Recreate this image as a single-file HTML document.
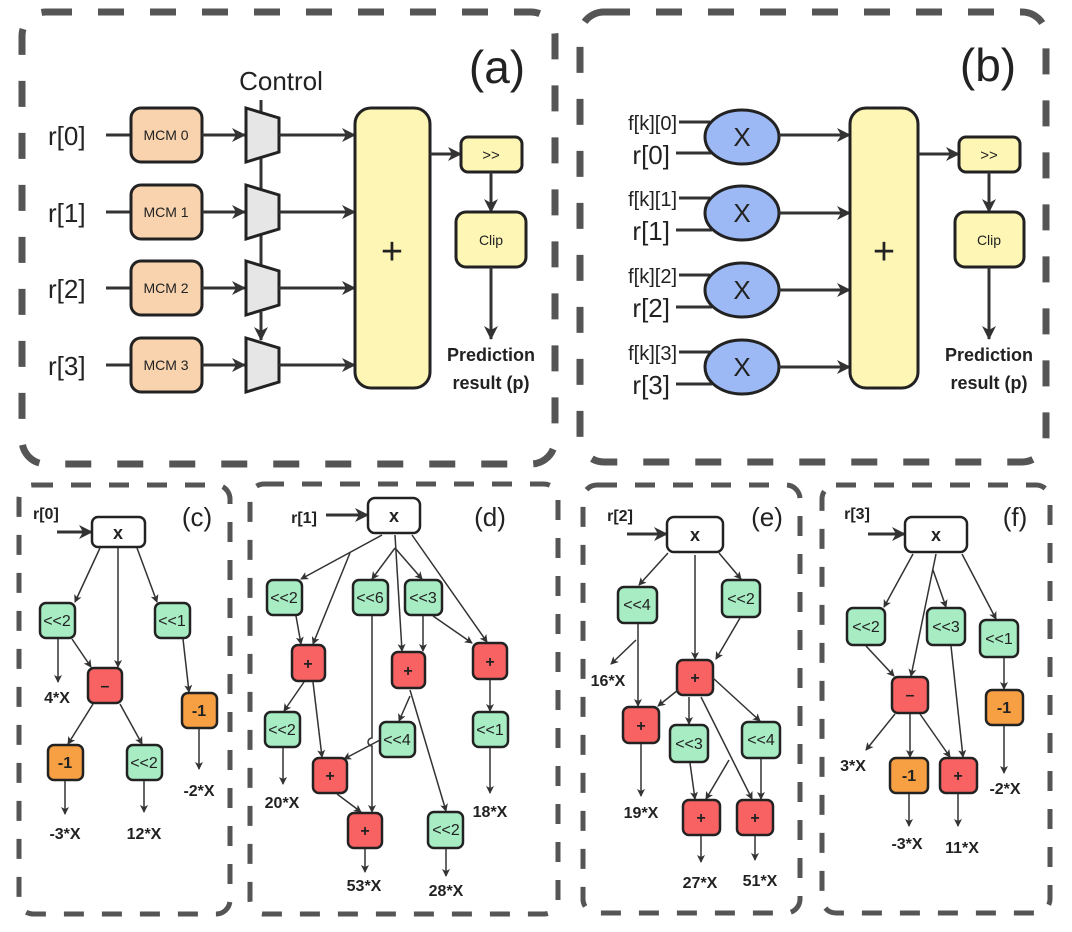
<!DOCTYPE html>
<html><head><meta charset="utf-8"><style>
html,body{margin:0;padding:0;background:#fff}
svg{display:block}
text{font-family:"Liberation Sans","DejaVu Sans",sans-serif;fill:#222}
.pn{fill:none;stroke:#555;stroke-width:7;stroke-dasharray:26 26}
.pn2{fill:none;stroke:#555;stroke-width:5;stroke-dasharray:20 18}
.e{stroke:#333;stroke-width:1.5;fill:none;marker-end:url(#s)}
.E{stroke:#333;stroke-width:3;fill:none;marker-end:url(#b)}
.L{stroke:#333;stroke-width:3;fill:none}
.g{fill:#a8ecc4;stroke:#222;stroke-width:2.5}
.r{fill:#f96262;stroke:#222;stroke-width:2.5}
.o{fill:#f7a043;stroke:#222;stroke-width:2.5}
.w{fill:#fff;stroke:#222;stroke-width:2.5}
.nt{font-size:16px;text-anchor:middle}
.xt{font-size:18px;font-weight:bold;text-anchor:middle}
.bt{font-size:18px;font-weight:bold;text-anchor:middle}
.lb{font-size:16px;font-weight:bold;text-anchor:middle}
.ls{font-size:16px;font-weight:bold;text-anchor:start}
</style></head><body>
<svg width="1072" height="932" viewBox="0 0 1072 932" xmlns="http://www.w3.org/2000/svg">
<defs>
<marker id="s" markerWidth="8" markerHeight="8" refX="7" refY="4" orient="auto" markerUnits="userSpaceOnUse"><path d="M0,0 L8,4 L0,8 L2,4z" fill="#333"/></marker>
<marker id="b" markerWidth="14" markerHeight="14" refX="13" refY="7" orient="auto" markerUnits="userSpaceOnUse"><path d="M0,0 L14,7 L0,14 L4,7z" fill="#333"/></marker>
</defs>
<rect class="pn" x="22" y="12" width="533" height="452" rx="24"/>
<rect class="pn" x="580" y="12" width="466" height="450" rx="24"/>
<rect class="pn2" x="19" y="485" width="211" height="429" rx="14"/>
<rect class="pn2" x="250" y="484" width="308" height="430" rx="14"/>
<rect class="pn2" x="583" y="485" width="217" height="428" rx="14"/>
<rect class="pn2" x="822" y="485" width="228" height="428" rx="14"/>

<!-- (a) -->
<text x="497" y="83" font-size="46" text-anchor="middle">(a)</text>
<text x="281" y="90" font-size="26" text-anchor="middle">Control</text>
<g font-size="26">
<text x="48" y="145">r[0]</text><text x="48" y="222">r[1]</text><text x="48" y="298">r[2]</text><text x="48" y="375">r[3]</text>
</g>
<g>
<line class="L" x1="106" y1="135" x2="131" y2="135"/><line class="L" x1="106" y1="212" x2="131" y2="212"/>
<line class="L" x1="106" y1="288" x2="131" y2="288"/><line class="L" x1="106" y1="365" x2="131" y2="365"/>
<rect x="131" y="108" width="71" height="54" rx="10" fill="#f8d3ae" stroke="#222" stroke-width="3"/>
<rect x="131" y="185" width="71" height="54" rx="10" fill="#f8d3ae" stroke="#222" stroke-width="3"/>
<rect x="131" y="261" width="71" height="54" rx="10" fill="#f8d3ae" stroke="#222" stroke-width="3"/>
<rect x="131" y="338" width="71" height="54" rx="10" fill="#f8d3ae" stroke="#222" stroke-width="3"/>
<g font-size="14" text-anchor="middle"><text x="166" y="140">MCM 0</text><text x="166" y="217">MCM 1</text><text x="166" y="293">MCM 2</text><text x="166" y="370">MCM 3</text></g>
<line class="E" x1="202" y1="135" x2="245" y2="135"/><line class="E" x1="202" y1="212" x2="245" y2="212"/>
<line class="E" x1="202" y1="288" x2="245" y2="288"/><line class="E" x1="202" y1="365" x2="245" y2="365"/>
<line class="L" x1="261" y1="100" x2="261" y2="112"/>
<line class="L" x1="261" y1="158" x2="261" y2="190"/>
<line class="L" x1="261" y1="235" x2="261" y2="266"/>
<line class="E" x1="261" y1="312" x2="261" y2="340"/>
<path d="M246,108 L279,118 L279,152 L246,162z" fill="#e6e6e6" stroke="#222" stroke-width="3"/>
<path d="M246,185 L279,195 L279,229 L246,239z" fill="#e6e6e6" stroke="#222" stroke-width="3"/>
<path d="M246,261 L279,271 L279,305 L246,315z" fill="#e6e6e6" stroke="#222" stroke-width="3"/>
<path d="M246,338 L279,348 L279,382 L246,392z" fill="#e6e6e6" stroke="#222" stroke-width="3"/>
<line class="E" x1="279" y1="135" x2="355" y2="135"/><line class="E" x1="279" y1="212" x2="355" y2="212"/>
<line class="E" x1="279" y1="288" x2="355" y2="288"/><line class="E" x1="279" y1="365" x2="355" y2="365"/>
<rect x="355" y="108" width="75" height="280" rx="16" fill="#fef6b5" stroke="#222" stroke-width="3"/>
<text x="392" y="264" font-size="38" text-anchor="middle">+</text>
<line class="E" x1="430" y1="154" x2="461" y2="154"/>
<rect x="461" y="137" width="61" height="35" rx="7" fill="#fef6b5" stroke="#222" stroke-width="3"/>
<text x="491" y="160" font-size="15" text-anchor="middle">&gt;&gt;</text>
<line class="E" x1="491" y1="172" x2="491" y2="212"/>
<rect x="456" y="212" width="70" height="55" rx="10" fill="#fef6b5" stroke="#222" stroke-width="3"/>
<text x="491" y="245" font-size="14" text-anchor="middle">Clip</text>
<line class="E" x1="491" y1="267" x2="491" y2="339"/>
<text x="491" y="361" class="bt">Prediction</text>
<text x="491" y="389" class="bt">result (p)</text>
</g>

<!-- (b) -->
<text x="988" y="81" font-size="46" text-anchor="middle">(b)</text>
<g font-size="20" text-anchor="end"><text x="677" y="130">f[k][0]</text><text x="677" y="206">f[k][1]</text><text x="677" y="283">f[k][2]</text><text x="677" y="360">f[k][3]</text></g>
<g font-size="26" text-anchor="end"><text x="670" y="164">r[0]</text><text x="670" y="240">r[1]</text><text x="670" y="317">r[2]</text><text x="670" y="394">r[3]</text></g>
<g>
<line class="L" x1="679" y1="122" x2="710" y2="122"/><line class="L" x1="676" y1="153" x2="712" y2="153"/>
<line class="L" x1="679" y1="198" x2="710" y2="198"/><line class="L" x1="676" y1="230" x2="712" y2="230"/>
<line class="L" x1="679" y1="275" x2="710" y2="275"/><line class="L" x1="676" y1="307" x2="712" y2="307"/>
<line class="L" x1="679" y1="352" x2="710" y2="352"/><line class="L" x1="676" y1="384" x2="712" y2="384"/>
<ellipse cx="742" cy="137" rx="37" ry="27" fill="#9cb9f5" stroke="#222" stroke-width="3"/>
<ellipse cx="742" cy="213" rx="37" ry="27" fill="#9cb9f5" stroke="#222" stroke-width="3"/>
<ellipse cx="742" cy="290" rx="37" ry="27" fill="#9cb9f5" stroke="#222" stroke-width="3"/>
<ellipse cx="742" cy="367" rx="37" ry="27" fill="#9cb9f5" stroke="#222" stroke-width="3"/>
<g font-size="26" text-anchor="middle"><text x="742" y="146">X</text><text x="742" y="222">X</text><text x="742" y="299">X</text><text x="742" y="376">X</text></g>
<line class="E" x1="779" y1="135" x2="850" y2="135"/><line class="E" x1="779" y1="213" x2="850" y2="213"/>
<line class="E" x1="779" y1="290" x2="850" y2="290"/><line class="E" x1="779" y1="367" x2="850" y2="367"/>
<rect x="850" y="108" width="68" height="280" rx="16" fill="#fef6b5" stroke="#222" stroke-width="3"/>
<text x="884" y="264" font-size="38" text-anchor="middle">+</text>
<line class="E" x1="918" y1="154" x2="959" y2="154"/>
<rect x="959" y="137" width="61" height="35" rx="7" fill="#fef6b5" stroke="#222" stroke-width="3"/>
<text x="989" y="160" font-size="15" text-anchor="middle">&gt;&gt;</text>
<line class="E" x1="989" y1="172" x2="989" y2="212"/>
<rect x="955" y="212" width="69" height="55" rx="10" fill="#fef6b5" stroke="#222" stroke-width="3"/>
<text x="989" y="245" font-size="14" text-anchor="middle">Clip</text>
<line class="E" x1="989" y1="267" x2="989" y2="339"/>
<text x="989" y="361" class="bt">Prediction</text>
<text x="989" y="389" class="bt">result (p)</text>
</g>

<!-- (c) -->
<text x="197" y="526" font-size="26" text-anchor="middle">(c)</text>
<text x="33" y="519" class="ls">r[0]</text>
<line class="E" x1="57" y1="532" x2="92" y2="532"/>
<rect class="w" x="92" y="517" width="53" height="30" rx="6"/><text x="118" y="539" class="xt">x</text>
<line class="e" x1="100" y1="548" x2="75" y2="602"/>
<line class="e" x1="118" y1="548" x2="118" y2="667"/>
<line class="e" x1="137" y1="548" x2="157" y2="602"/>
<rect class="g" x="40" y="603" width="35" height="35" rx="6"/><text x="57" y="626" class="nt">&lt;&lt;2</text>
<rect class="g" x="155" y="603" width="35" height="35" rx="6"/><text x="172" y="626" class="nt">&lt;&lt;1</text>
<line class="e" x1="58" y1="639" x2="58" y2="682"/>
<line class="e" x1="72" y1="639" x2="91" y2="667"/>
<rect class="r" x="88" y="668" width="34" height="35" rx="6"/><text x="105" y="691" class="nt" font-weight="bold">–</text>
<line class="e" x1="183" y1="639" x2="189" y2="692"/>
<rect class="o" x="182" y="693" width="35" height="35" rx="6"/><text x="199" y="716" class="nt" font-weight="bold">-1</text>
<line class="e" x1="93" y1="704" x2="68" y2="744"/>
<line class="e" x1="120" y1="704" x2="142" y2="744"/>
<rect class="o" x="48" y="745" width="35" height="35" rx="6"/><text x="65" y="768" class="nt" font-weight="bold">-1</text>
<rect class="g" x="127" y="745" width="35" height="35" rx="6"/><text x="144" y="768" class="nt">&lt;&lt;2</text>
<line class="e" x1="199" y1="729" x2="199" y2="769"/>
<line class="e" x1="65" y1="781" x2="65" y2="814"/>
<line class="e" x1="144" y1="781" x2="144" y2="812"/>
<text x="57" y="703" class="lb">4*X</text>
<text x="65" y="839" class="lb">-3*X</text>
<text x="144" y="839" class="lb">12*X</text>
<text x="199" y="796" class="lb">-2*X</text>

<!-- (d) -->
<text x="490" y="526" font-size="26" text-anchor="middle">(d)</text>
<text x="304" y="523" class="lb">r[1]</text>
<line class="E" x1="326" y1="515" x2="368" y2="515"/>
<rect class="w" x="368" y="498" width="52" height="35" rx="7"/><text x="394" y="522" class="xt">x</text>
<line class="e" x1="382" y1="535" x2="301" y2="579"/>
<line class="e" x1="350" y1="553" x2="313" y2="644"/>
<line class="e" x1="395" y1="548" x2="372" y2="579"/>
<line class="e" x1="395" y1="548" x2="422" y2="579"/>
<line class="e" x1="395" y1="535" x2="402" y2="651"/>
<line class="e" x1="412" y1="535" x2="487" y2="642"/>
<rect class="g" x="267" y="580" width="35" height="35" rx="6"/><text x="284" y="603" class="nt">&lt;&lt;2</text>
<rect class="g" x="353" y="580" width="35" height="35" rx="6"/><text x="370" y="603" class="nt">&lt;&lt;6</text>
<rect class="g" x="405" y="580" width="37" height="35" rx="6"/><text x="423" y="603" class="nt">&lt;&lt;3</text>
<line class="e" x1="296" y1="616" x2="301" y2="644"/>
<line class="e" x1="423" y1="616" x2="423" y2="651"/>
<line class="e" x1="433" y1="616" x2="472" y2="643"/>
<path class="e" d="M372,616 L372,738 A4,4 0 0 0 372,746 L372,812"/>
<rect class="r" x="292" y="645" width="33" height="36" rx="6"/><text x="308" y="669" class="nt" font-weight="bold">+</text>
<rect class="r" x="392" y="652" width="33" height="36" rx="6"/><text x="408" y="676" class="nt" font-weight="bold">+</text>
<rect class="r" x="473" y="643" width="34" height="36" rx="6"/><text x="490" y="667" class="nt" font-weight="bold">+</text>
<line class="e" x1="304" y1="682" x2="284" y2="711"/>
<line class="e" x1="313" y1="682" x2="322" y2="757"/>
<line class="e" x1="410" y1="696" x2="399" y2="721"/>
<line class="e" x1="410" y1="690" x2="446" y2="811"/>
<line class="e" x1="490" y1="680" x2="490" y2="711"/>
<rect class="g" x="265" y="712" width="35" height="35" rx="6"/><text x="282" y="735" class="nt">&lt;&lt;2</text>
<rect class="g" x="380" y="722" width="35" height="35" rx="6"/><text x="397" y="745" class="nt">&lt;&lt;4</text>
<rect class="g" x="473" y="712" width="35" height="35" rx="6"/><text x="490" y="735" class="nt">&lt;&lt;1</text>
<line class="e" x1="380" y1="740" x2="344" y2="759"/>
<line class="e" x1="283" y1="748" x2="283" y2="784"/>
<line class="e" x1="490" y1="748" x2="490" y2="793"/>
<rect class="r" x="313" y="758" width="34" height="35" rx="6"/><text x="330" y="781" class="nt" font-weight="bold">+</text>
<line class="e" x1="337" y1="794" x2="361" y2="812"/>
<rect class="r" x="348" y="813" width="34" height="35" rx="6"/><text x="365" y="836" class="nt" font-weight="bold">+</text>
<rect class="g" x="428" y="812" width="35" height="36" rx="6"/><text x="446" y="835" class="nt">&lt;&lt;2</text>
<line class="e" x1="365" y1="849" x2="365" y2="872"/>
<line class="e" x1="446" y1="849" x2="446" y2="876"/>
<text x="282" y="808" class="lb">20*X</text>
<text x="364" y="891" class="lb">53*X</text>
<text x="446" y="896" class="lb">28*X</text>
<text x="490" y="817" class="lb">18*X</text>

<!-- (e) -->
<text x="767" y="526" font-size="26" text-anchor="middle">(e)</text>
<text x="620" y="521" class="lb">r[2]</text>
<line class="E" x1="627" y1="534" x2="667" y2="534"/>
<rect class="w" x="667" y="517" width="56" height="35" rx="7"/><text x="695" y="541" class="xt">x</text>
<line class="e" x1="668" y1="553" x2="639" y2="585"/>
<line class="e" x1="695" y1="555" x2="695" y2="659"/>
<line class="e" x1="719" y1="553" x2="741" y2="579"/>
<rect class="g" x="618" y="587" width="39" height="36" rx="6"/><text x="637" y="610" class="nt">&lt;&lt;4</text>
<rect class="g" x="722" y="580" width="38" height="37" rx="6"/><text x="741" y="604" class="nt">&lt;&lt;2</text>
<line class="e" x1="636" y1="640" x2="611" y2="664"/>
<line class="e" x1="638" y1="624" x2="638" y2="706"/>
<line class="e" x1="740" y1="618" x2="716" y2="659"/>
<rect class="r" x="677" y="660" width="36" height="35" rx="6"/><text x="695" y="683" class="nt" font-weight="bold">+</text>
<line class="e" x1="678" y1="690" x2="658" y2="706"/>
<line class="e" x1="689" y1="697" x2="689" y2="724"/>
<line class="e" x1="713" y1="678" x2="760" y2="721"/>
<line class="e" x1="701" y1="697" x2="752" y2="799"/>
<rect class="r" x="623" y="707" width="36" height="36" rx="6"/><text x="641" y="731" class="nt" font-weight="bold">+</text>
<rect class="g" x="670" y="725" width="38" height="37" rx="6"/><text x="689" y="749" class="nt">&lt;&lt;3</text>
<rect class="g" x="742" y="722" width="38" height="36" rx="6"/><text x="761" y="745" class="nt">&lt;&lt;4</text>
<line class="e" x1="690" y1="763" x2="695" y2="799"/>
<line class="e" x1="729" y1="760" x2="706" y2="799"/>
<line class="e" x1="761" y1="759" x2="761" y2="799"/>
<line class="e" x1="641" y1="744" x2="641" y2="796"/>
<rect class="r" x="683" y="800" width="37" height="35" rx="6"/><text x="701" y="823" class="nt" font-weight="bold">+</text>
<rect class="r" x="737" y="800" width="36" height="35" rx="6"/><text x="755" y="823" class="nt" font-weight="bold">+</text>
<line class="e" x1="701" y1="836" x2="701" y2="862"/>
<line class="e" x1="755" y1="836" x2="755" y2="860"/>
<text x="608" y="686" class="lb">16*X</text>
<text x="641" y="818" class="lb">19*X</text>
<text x="700" y="888" class="lb">27*X</text>
<text x="760" y="886" class="lb">51*X</text>

<!-- (f) -->
<text x="1015" y="526" font-size="26" text-anchor="middle">(f)</text>
<text x="857" y="519" class="lb">r[3]</text>
<line class="E" x1="868" y1="534" x2="905" y2="534"/>
<rect class="w" x="905" y="517" width="62" height="35" rx="7"/><text x="936" y="541" class="xt">x</text>
<line class="e" x1="913" y1="554" x2="884" y2="607"/>
<line class="e" x1="936" y1="554" x2="911" y2="676"/>
<line class="e" x1="933" y1="570" x2="946" y2="607"/>
<line class="e" x1="962" y1="554" x2="996" y2="619"/>
<rect class="g" x="847" y="608" width="38" height="37" rx="6"/><text x="866" y="632" class="nt">&lt;&lt;2</text>
<rect class="g" x="927" y="608" width="38" height="37" rx="6"/><text x="946" y="632" class="nt">&lt;&lt;3</text>
<rect class="g" x="980" y="620" width="38" height="37" rx="6"/><text x="999" y="644" class="nt">&lt;&lt;1</text>
<line class="e" x1="866" y1="646" x2="894" y2="676"/>
<line class="e" x1="951" y1="646" x2="963" y2="757"/>
<line class="e" x1="1004" y1="658" x2="1004" y2="689"/>
<rect class="r" x="892" y="677" width="36" height="36" rx="6"/><text x="910" y="700" class="nt" font-weight="bold">–</text>
<rect class="o" x="986" y="690" width="37" height="35" rx="6"/><text x="1004" y="713" class="nt" font-weight="bold">-1</text>
<line class="e" x1="895" y1="714" x2="866" y2="750"/>
<line class="e" x1="910" y1="714" x2="910" y2="757"/>
<line class="e" x1="920" y1="714" x2="950" y2="757"/>
<line class="e" x1="1004" y1="726" x2="1004" y2="773"/>
<rect class="o" x="890" y="758" width="38" height="35" rx="6"/><text x="909" y="781" class="nt" font-weight="bold">-1</text>
<rect class="r" x="940" y="758" width="37" height="35" rx="6"/><text x="958" y="781" class="nt" font-weight="bold">+</text>
<line class="e" x1="909" y1="794" x2="909" y2="826"/>
<line class="e" x1="958" y1="794" x2="958" y2="826"/>
<text x="853" y="771" class="lb">3*X</text>
<text x="907" y="849" class="lb">-3*X</text>
<text x="962" y="853" class="lb">11*X</text>
<text x="1005" y="794" class="lb">-2*X</text>
</svg>
</body></html>
